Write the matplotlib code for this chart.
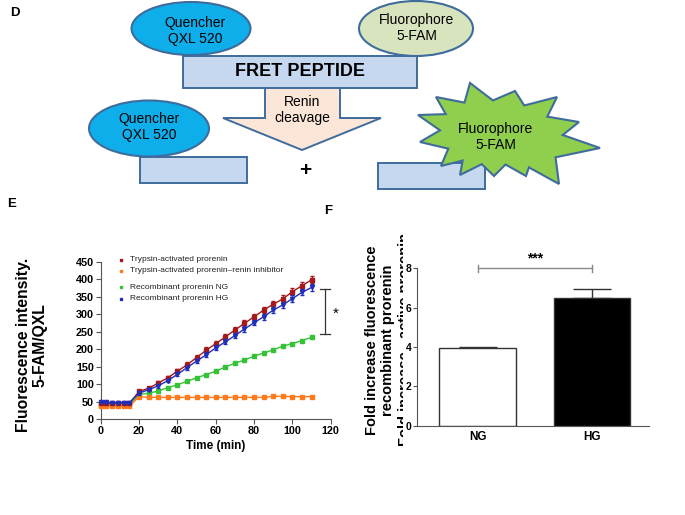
import matplotlib
matplotlib.use('Agg')
import matplotlib.pyplot as plt
from matplotlib.patches import Ellipse, Rectangle, Polygon
import numpy as np

plt.rcParams['font.family'] = ['Liberation Sans', 'DejaVu Sans']

# panel E data (fluorescence 5-FAM/QXL over time)
time_min = [0, 3, 6, 9, 12, 15, 20, 25, 30, 35, 40, 45, 50, 55, 60, 65, 70,
            75, 80, 85, 90, 95, 100, 105, 110]
trypsin = [45, 45, 45, 45, 45, 45, 79, 88, 103, 118, 137, 155, 176, 197, 216,
           235, 255, 274, 293, 312, 329, 344, 365, 382, 399]
trypsin_err = [2, 2, 2, 2, 2, 2, 5, 5, 6, 6, 7, 7, 8, 8, 8, 8, 9, 9, 9, 9,
               10, 10, 10, 10, 10]
inhibitor = [37, 37, 37, 37, 37, 37, 64, 62, 62, 62, 62, 62, 62, 62, 62, 62,
             62, 62, 62, 62, 65, 65, 64, 64, 64]
prorenin_ng = [39, 39, 39, 39, 39, 39, 70, 74, 80, 90, 98, 108, 118, 127, 137,
               149, 160, 169, 180, 189, 198, 209, 216, 225, 234]
prorenin_hg = [48, 48, 47, 47, 47, 47, 74, 84, 95, 110, 128, 147, 166, 184,
               204, 221, 239, 258, 276, 293, 312, 327, 345, 363, 377]
hg_err = [2, 2, 2, 2, 2, 2, 4, 4, 5, 5, 6, 6, 6, 7, 7, 7, 7, 8, 8, 8, 8, 8,
          9, 9, 9]

series_labels = ['Trypsin-activated prorenin',
                 'Trypsin-activated prorenin\u2013renin inhibitor',
                 'Recombinant prorenin NG',
                 'Recombinant prorenin HG']
series_colors = ['#a3191c', '#ff7a1a', '#36c236', '#1f2fb8']

# panel F data
groups = ['NG', 'HG']
fold = [3.93, 6.51]
fold_err = [0.09, 0.42]

W, H = 685, 515
fig = plt.figure(figsize=(6.85, 5.15), dpi=100)

# ---- panel D: schematic drawn in pixel coordinates ----
dax = fig.add_axes([0, 0, 1, 1])
dax.set_xlim(0, W)
dax.set_ylim(H, 0)
dax.axis('off')
edge = '#3f6c9c'

arrow = Polygon([(265, 84), (340, 84), (340, 118), (381, 118), (302, 150),
                 (223, 118), (265, 118)], closed=True, fc='#fce6d7', ec=edge, lw=1.4)
dax.add_patch(arrow)
dax.add_patch(Rectangle((183, 56), 234, 32, fc='#c6d8ef', ec=edge, lw=1.4))
dax.add_patch(Ellipse((191, 28.5), 119, 53, fc='#0eaeea', ec=edge, lw=1.5))
dax.add_patch(Ellipse((416, 28.5), 114, 55, fc='#d7e4bd', ec=edge, lw=1.5))
dax.add_patch(Rectangle((140, 157), 107, 26, fc='#c6d8ef', ec=edge, lw=1.4))
dax.add_patch(Ellipse((149, 128.5), 120, 56, fc='#0eaeea', ec=edge, lw=1.5))
dax.add_patch(Rectangle((378, 163), 107, 26, fc='#c6d8ef', ec=edge, lw=1.4))

tips = [(470, 83), (515, 91), (557, 97), (579, 122), (600, 148), (559, 184),
        (526, 176), (494, 176), (460, 175), (441, 166), (420, 142), (418, 115),
        (436, 97)]
cx, cy = 494, 135
star = []
for i, (tx, ty) in enumerate(tips):
    nx, ny = tips[(i + 1) % len(tips)]
    mx, my = (tx + nx) / 2, (ty + ny) / 2
    star.append((tx, ty))
    star.append((cx + 0.72 * (mx - cx), cy + 0.72 * (my - cy)))
dax.add_patch(Polygon(star, closed=True, fc='#8fcf4d', ec=edge, lw=1.5))

dax.text(195, 31, 'Quencher\nQXL 520', ha='center', va='center', fontsize=10, linespacing=1.1)
dax.text(417, 28, 'Fluorophore\n5-FAM', ha='center', va='center', fontsize=10, linespacing=1.1)
dax.text(300, 72, 'FRET PEPTIDE', ha='center', va='center', fontsize=13, fontweight='bold')
dax.text(302, 110, 'Renin\ncleavage', ha='center', va='center', fontsize=10, linespacing=1.1)
dax.text(149, 127, 'Quencher\nQXL 520', ha='center', va='center', fontsize=10, linespacing=1.1)
dax.text(496, 137, 'Fluorophore\n5-FAM', ha='center', va='center', fontsize=10, linespacing=1.1)
dax.text(305, 171, '+', ha='center', va='center', fontsize=15, fontweight='bold')

dax.text(10, 13, 'D', ha='left', va='center', fontsize=9.5, fontweight='bold')
dax.text(7, 204, 'E', ha='left', va='center', fontsize=9.5, fontweight='bold')
dax.text(324, 211, 'F', ha='left', va='center', fontsize=9.5, fontweight='bold')

# ---- panel E ----
ax = fig.add_axes([100.7 / W, (H - 419) / H, 230 / W, 157 / H])
ax.plot(time_min, prorenin_ng, '-s', color=series_colors[2], ms=2.5, lw=1, clip_on=False, zorder=3)
ax.plot(time_min, inhibitor, '-s', color=series_colors[1], ms=3, lw=1, clip_on=False, zorder=3)
ax.errorbar(time_min, trypsin, yerr=trypsin_err, fmt='-s', color=series_colors[0],
            ms=3, lw=1, elinewidth=0.8, capsize=1.5, clip_on=False, zorder=4)
ax.errorbar(time_min, prorenin_hg, yerr=hg_err, fmt='-v', color=series_colors[3],
            ms=3, lw=1, elinewidth=0.8, capsize=1.5, clip_on=False, zorder=5)
ax.set_xlim(0, 120)
ax.set_ylim(0, 450)
ax.set_xticks([0, 20, 40, 60, 80, 100, 120])
ax.set_yticks(range(0, 451, 50))
for s in ['top', 'right']:
    ax.spines[s].set_visible(False)
for s in ['left', 'bottom']:
    ax.spines[s].set_color('#555555')
ax.tick_params(length=3.5, width=0.8, color='#555555', labelsize=7.8, pad=1.5)
for lab in ax.get_xticklabels() + ax.get_yticklabels():
    lab.set_fontweight('bold')
ax.set_xlabel('Time (min)', fontsize=8.5, fontweight='bold', labelpad=3)

# legend drawn by hand (uneven row gaps as in the figure)
rows = [1.013, 0.943, 0.839, 0.766]
for lab, col, yy in zip(series_labels, series_colors, rows):
    ax.plot([0.088], [yy], 's', color=col, ms=1.6, transform=ax.transAxes, clip_on=False)
    ax.text(0.127, yy, lab, transform=ax.transAxes, fontsize=6, va='center', color='#222222')

# significance bracket
ax.plot([117, 117], [244, 374], color='#333333', lw=0.9, clip_on=False)
ax.plot([114.5, 119.5], [374, 374], color='#333333', lw=0.9, clip_on=False)
ax.plot([114.5, 119.5], [244, 244], color='#333333', lw=0.9, clip_on=False)
ax.text(121, 301, '*', fontsize=11, ha='left', va='center', clip_on=False)

fig.text(32 / W, (H - 345) / H, 'Fluorescence intensity.\n5-FAM/QXL', rotation=90,
         ha='center', va='center', fontsize=11.3, fontweight='bold', linespacing=1.15)

# ---- panel F ----
bx = fig.add_axes([417 / W, (H - 425.7) / H, 232 / W, 157.4 / H])
bx.set_zorder(4)   # keep tick labels above the white mask below
x = np.arange(len(groups))
bx.bar(x, fold, width=0.67, color=['white', 'black'], edgecolor='#333333', lw=1, zorder=2)
bx.errorbar(x, fold, yerr=[[0, 0], fold_err], fmt='none', ecolor='#333333',
            elinewidth=1, capsize=13.5, capthick=1, zorder=1)
bx.set_xlim(-0.53, 1.5)
bx.set_ylim(0, 8)
bx.set_yticks([0, 2, 4, 6, 8])
bx.set_xticks(x)
bx.set_xticklabels(groups)
for s in ['top', 'right']:
    bx.spines[s].set_visible(False)
for s in ['left', 'bottom']:
    bx.spines[s].set_color('#555555')
bx.tick_params(axis='y', length=3, width=0.8, color='#555555', labelsize=7.5, pad=1)
bx.tick_params(axis='x', length=0, labelsize=8.5, pad=4)
for lab in bx.get_xticklabels() + bx.get_yticklabels():
    lab.set_fontweight('bold')

bx.plot([0, 1], [8.0, 8.0], color='#888888', lw=1, clip_on=False)
bx.plot([0, 0], [7.82, 8.18], color='#888888', lw=1, clip_on=False)
bx.plot([1, 1], [7.82, 8.18], color='#888888', lw=1, clip_on=False)
bx.text(0.5, 8.5, '***', ha='center', va='center', fontsize=10, fontweight='bold', clip_on=False)

fig.text(380 / W, (H - 340) / H, 'Fold increase fluorescence\nrecombinant prorenin',
         rotation=90, ha='center', va='center', fontsize=10.5, fontweight='bold',
         linespacing=1.15)
# third label line is cut off in the original figure; only its left edge shows
fig.text(405 / W, (H - 340) / H, 'Fold increase - active prorenin',
         rotation=90, ha='center', va='center', fontsize=10.5, fontweight='bold', zorder=3)
fig.patches.append(Rectangle((403 / W, (H - 448) / H), 13 / W, 215 / H,
                             transform=fig.transFigure, fc='white', ec='none', zorder=3.5))

fig.savefig('out.png', dpi=100)
